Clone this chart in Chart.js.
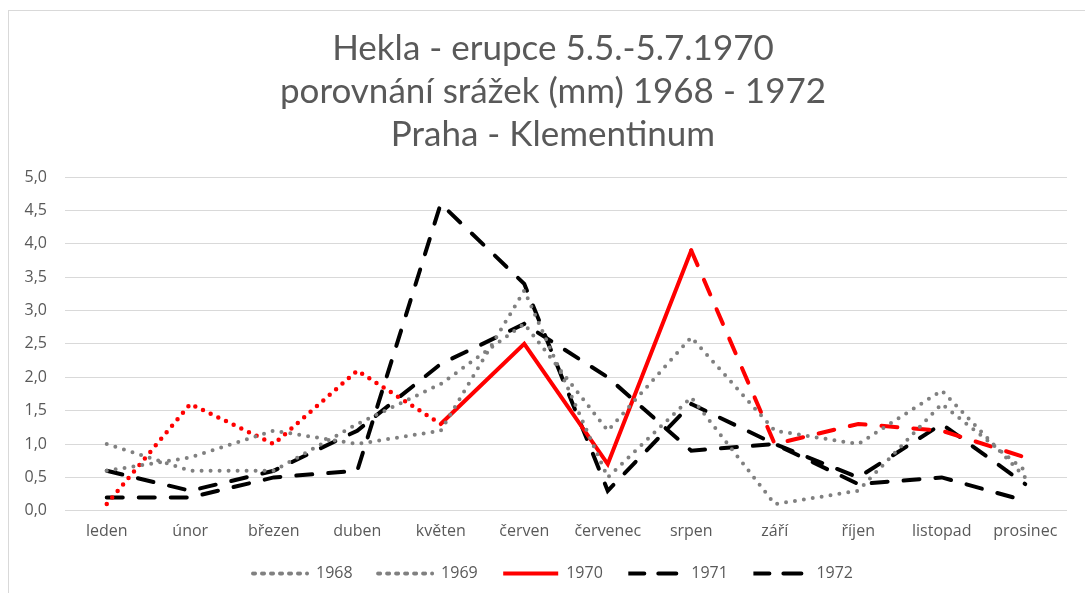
<!DOCTYPE html>
<html>
<head>
<meta charset="utf-8">
<script src="https://cdn.jsdelivr.net/npm/chart.js@4.4.0/dist/chart.umd.min.js"></script>
<style>
  html, body { margin: 0; padding: 0; background: #fff; overflow: hidden; }
  #frame { position: absolute; left: 8px; top: 10px; width: 1100px; height: 620px;
           border-top: 1px solid #d9d9d9; border-left: 1px solid #d9d9d9; }
  #rainChart { position: absolute; left: 0; top: 0; }
</style>
</head>
<body>
<div id="frame"><canvas id="rainChart" width="1076" height="600"></canvas></div>
<script>
const months = ['leden', 'únor', 'březen', 'duben', 'květen', 'červen', 'červenec', 'srpen', 'září', 'říjen', 'listopad', 'prosinec'];
const rain1968 = [1.0, 0.6, 0.6, 1.3, 1.9, 2.8, 1.2, 2.6, 1.2, 1.0, 1.8, 0.5];
const rain1969 = [0.6, 0.8, 1.2, 1.0, 1.2, 3.3, 0.5, 1.7, 0.1, 0.3, 1.6, 0.6];
const rain1970 = [0.1, 1.6, 1.0, 2.1, 1.3, 2.5, 0.7, 3.9, 1.0, 1.3, 1.2, 0.8];
const rain1971 = [0.6, 0.3, 0.6, 1.2, 2.2, 2.8, 2.0, 0.9, 1.0, 0.4, 0.5, 0.15];
const rain1972 = [0.2, 0.2, 0.5, 0.6, 4.6, 3.4, 0.3, 1.6, 1.0, 0.5, 1.3, 0.4];
const titleLines = ['Hekla - erupce 5.5.-5.7.1970', 'porovnání srážek (mm) 1968 - 1972', 'Praha - Klementinum'];

// eruption 5.5.-5.7. -> solid part of 1970, dotted before, dashed after
const eruptionStart = 4;
const eruptionEnd = 7;

const dotted = [0, 9];
const redDotted = [0, 8.5];
const dashed = [16, 16];

Chart.defaults.font.family = "'Open Sans', sans-serif";
Chart.defaults.color = '#595959';

function graySeries(label, data) {
    return {
        label: label,
        data: data,
        borderColor: '#808080',
        backgroundColor: '#808080',
        borderWidth: 4,
        borderDash: dotted,
        borderCapStyle: 'round',
        pointRadius: 0,
        tension: 0
    };
}

function blackSeries(label, data) {
    return {
        label: label,
        data: data,
        borderColor: '#000000',
        backgroundColor: '#000000',
        borderWidth: 4,
        borderDash: dashed,
        borderCapStyle: 'round',
        pointRadius: 0,
        tension: 0
    };
}

// legend keeps wide item spacing but sits closer to the month labels
const legendShift = {
    id: 'legendShift',
    afterLayout(chart) {
        chart.legend.top -= 12;
        chart.legend.bottom -= 12;
    }
};

const ctx = document.getElementById('rainChart').getContext('2d');
new Chart(ctx, {
    type: 'line',
    data: {
        labels: months,
        datasets: [
            graySeries('1968', rain1968),
            graySeries('1969', rain1969),
            {
                label: '1970',
                data: rain1970,
                borderColor: '#ff0000',
                backgroundColor: '#ff0000',
                borderWidth: 4,
                borderCapStyle: 'round',
                pointRadius: 0,
                tension: 0,
                segment: {
                    borderDash: c => c.p0DataIndex < eruptionStart ? redDotted : (c.p0DataIndex < eruptionEnd ? [] : dashed),
                    borderWidth: c => c.p0DataIndex < eruptionStart ? 4.5 : 4
                }
            },
            blackSeries('1971', rain1971),
            blackSeries('1972', rain1972)
        ]
    },
    plugins: [legendShift],
    options: {
        responsive: false,
        animation: false,
        layout: { padding: { left: 12, right: 0, top: 0, bottom: 9 } },
        scales: {
            x: {
                offset: true,
                grid: { display: false, drawTicks: false },
                border: { display: false },
                ticks: { padding: 11, color: '#595959', font: { size: 16 }, maxRotation: 0, autoSkip: false }
            },
            y: {
                min: 0,
                max: 5,
                grid: { color: '#d9d9d9', lineWidth: 1, drawTicks: false },
                border: { display: false },
                ticks: {
                    stepSize: 0.5,
                    padding: 18,
                    color: '#595959',
                    font: { size: 16 },
                    callback: v => v.toFixed(1).replace('.', ',')
                },
                afterFit: scale => { scale.width = 44; }
            },
            // empty axis on the right, keeps the plot off the right edge
            yRight: {
                position: 'right',
                grid: { display: false },
                border: { display: false },
                ticks: { display: false },
                afterFit: scale => { scale.width = 18; }
            }
        },
        plugins: {
            tooltip: { enabled: false },
            title: {
                display: true,
                text: titleLines,
                color: '#595959',
                font: { family: 'Lato', size: 35, weight: 'normal', lineHeight: 43 / 35 },
                padding: { top: 16, bottom: 21 }
            },
            legend: {
                position: 'bottom',
                maxHeight: 50,
                labels: {
                    boxWidth: 55,
                    boxHeight: 0,
                    padding: 25.5,
                    color: '#595959',
                    font: { size: 16 }
                }
            }
        }
    }
});
</script>
</body>
</html>
